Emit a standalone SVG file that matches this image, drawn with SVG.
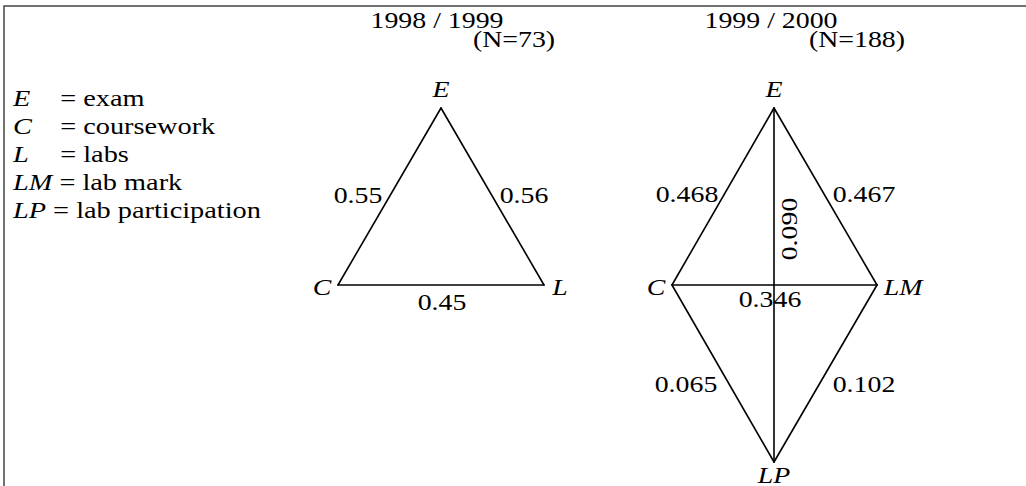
<svg xmlns="http://www.w3.org/2000/svg" width="1026" height="486" viewBox="0 0 1026 486">
<style>
text{font-family:"Liberation Serif","Times New Roman",serif;font-size:24px;fill:#000}
.i{font-style:italic}
.m{text-anchor:middle}
.e{stroke:#000;stroke-width:1.6;fill:none;stroke-linecap:round}
.b{stroke:#444;stroke-width:1.5;fill:none}
</style>
<rect width="1026" height="486" fill="#fff"/>
<g id="frame"><path class="b" d="M4 486V6H1026"/></g>
<g id="legend">
<text transform="translate(13 106) scale(1.18 1)"><tspan class="i">E</tspan><tspan x="40">= exam</tspan></text>
<text transform="translate(13 134) scale(1.18 1)"><tspan class="i">C</tspan><tspan x="40">= coursework</tspan></text>
<text transform="translate(13 162) scale(1.18 1)"><tspan class="i">L</tspan><tspan x="40">= labs</tspan></text>
<text transform="translate(13 190) scale(1.18 1)"><tspan class="i">LM</tspan> = lab mark</text>
<text transform="translate(13 218) scale(1.18 1)"><tspan class="i">LP</tspan> = lab participation</text>
</g>
<g id="titles">
<text class="m" transform="translate(437 28) scale(1.16 1)">1998 / 1999</text>
<text class="m" transform="translate(514 47) scale(1.16 1)">(N=73)</text>
<text class="m" transform="translate(771 28) scale(1.16 1)">1999 / 2000</text>
<text class="m" transform="translate(857 47) scale(1.16 1)">(N=188)</text>
</g>
<g id="connectors">
<path id="t1-EC" class="e" d="M441 108L338 285"/>
<path id="t1-EL" class="e" d="M441 108L544 285"/>
<path id="t1-CL" class="e" d="M338 285H544"/>
<path id="t2-EC" class="e" d="M774 108L672 285"/>
<path id="t2-ELM" class="e" d="M774 108L877 285"/>
<path id="t2-CLM" class="e" d="M672 285H877"/>
<path id="t2-CLP" class="e" d="M672 285L774 462"/>
<path id="t2-LMLP" class="e" d="M877 285L774 462"/>
<path id="t2-ELP" class="e" d="M774 108V462"/>
</g>
<g id="edge-labels">
<text class="m" transform="translate(358 203) scale(1.16 1)">0.55</text>
<text class="m" transform="translate(524 203) scale(1.16 1)">0.56</text>
<text class="m" transform="translate(442 310) scale(1.16 1)">0.45</text>
<text class="m" transform="translate(687 202) scale(1.16 1)">0.468</text>
<text class="m" transform="translate(864 202) scale(1.16 1)">0.467</text>
<text class="m" transform="translate(797 229) rotate(-90) scale(1.16 1)">0.090</text>
<text class="m" transform="translate(770 307) scale(1.16 1)">0.346</text>
<text class="m" transform="translate(686 392) scale(1.16 1)">0.065</text>
<text class="m" transform="translate(864 392) scale(1.16 1)">0.102</text>
</g>
<g id="node-E1"><text class="i m" transform="translate(441 97) scale(1.16 1)">E</text></g>
<g id="node-C1"><text class="i m" transform="translate(322 295) scale(1.16 1)">C</text></g>
<g id="node-L1"><text class="i m" transform="translate(560 295) scale(1.16 1)">L</text></g>
<g id="node-E2"><text class="i m" transform="translate(774 97) scale(1.16 1)">E</text></g>
<g id="node-C2"><text class="i m" transform="translate(656 295) scale(1.16 1)">C</text></g>
<g id="node-LM"><text class="i m" transform="translate(903 295) scale(1.16 1)">LM</text></g>
<g id="node-LP"><text class="i m" transform="translate(774 483) scale(1.16 1)">LP</text></g>
</svg>
